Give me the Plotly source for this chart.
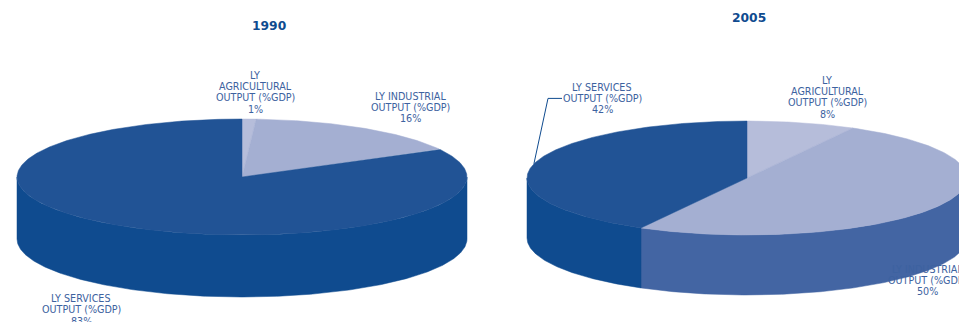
import numpy as np
import plotly.graph_objects as go

# Shares of GDP by sector
sectors = ["Agricultural", "Industrial", "Services"]
share_1990 = [1, 16, 83]
share_2005 = [8, 50, 42]
years = ["1990", "2005"]

label_lines = {
    "Agricultural": ["LY", "AGRICULTURAL", "OUTPUT (%GDP)"],
    "Industrial": ["LY INDUSTRIAL", "OUTPUT (%GDP)"],
    "Services": ["LY SERVICES", "OUTPUT (%GDP)"],
}

TOP_COLORS = {"Agricultural": "#b6bdda", "Industrial": "#a4afd2", "Services": "#215395"}
SIDE_COLORS = {"Agricultural": "#8f9cc6", "Industrial": "#4365a3", "Services": "#0f4b8f"}
TEXT_COLOR = "#3d62a0"
TITLE_COLOR = "#0f4b8f"

# Pie geometry in page pixels
PIES = {
    "1990": dict(cx=242, cy=177, rx=225, ry=58, depth=62, title=(269, 26),
                 labels={"Agricultural": (255, 75), "Industrial": (410, 96), "Services": (81, 298.5)}),
    "2005": dict(cx=747, cy=178, rx=220, ry=57, depth=60, title=(749, 18),
                 labels={"Agricultural": (827, 80), "Industrial": (927, 269), "Services": (602, 87)}),
}
LINE_STEP = 11.4


def rim(p, a0, a1, dy=0.0):
    """Points along the rim from a0 to a1 degrees, clockwise from 12 o'clock."""
    t = np.radians(np.linspace(a0, a1, max(int(abs(a1 - a0) * 2), 2)))
    return p["cx"] + p["rx"] * np.sin(t), p["cy"] - p["ry"] * np.cos(t) + dy


def polygon(fig, x, y, color):
    fig.add_trace(go.Scatter(x=x, y=y, mode="lines", fill="toself", fillcolor=color,
                             line=dict(color=color, width=0.5), hoverinfo="skip", showlegend=False))


fig = go.Figure()
annotations = []

for year, shares in zip(years, [share_1990, share_2005]):
    p = PIES[year]
    edges = np.concatenate([[0], np.cumsum(shares)]) * 3.6

    # Outer wall: only the front half of each slice is visible
    for name, a0, a1 in zip(sectors, edges[:-1], edges[1:]):
        lo, hi = max(a0, 90), min(a1, 270)
        if hi > lo:
            xt, yt = rim(p, lo, hi)
            xb, yb = rim(p, lo, hi, p["depth"])
            polygon(fig, np.r_[xt, xb[::-1], xt[0]], np.r_[yt, yb[::-1], yt[0]], SIDE_COLORS[name])

    # Top face
    for name, a0, a1 in zip(sectors, edges[:-1], edges[1:]):
        xt, yt = rim(p, a0, a1)
        polygon(fig, np.r_[p["cx"], xt, p["cx"]], np.r_[p["cy"], yt, p["cy"]], TOP_COLORS[name])

    # Sector labels, one annotation per line for exact leading
    for name, share in zip(sectors, shares):
        lx, ly = p["labels"][name]
        for i, line in enumerate(label_lines[name] + [f"{share}%"]):
            annotations.append(dict(x=lx, y=ly + i * LINE_STEP, text=line, showarrow=False,
                                    xanchor="center", yanchor="middle",
                                    font=dict(family="DejaVu Sans", size=9.6, color=TEXT_COLOR)))

    annotations.append(dict(x=p["title"][0], y=p["title"][1], text=f"<b>{year}</b>", showarrow=False,
                            xanchor="center", yanchor="middle",
                            font=dict(family="DejaVu Sans", size=12.3, color=TITLE_COLOR)))

# Leader line from the 2005 services slice up to its label
p = PIES["2005"]
mid = 360 - share_2005[2] * 3.6 / 2
lx, ly = p["labels"]["Services"]
ly += LINE_STEP
ax, ay = rim(p, mid, mid + 0.5)
fig.add_trace(go.Scatter(x=[ax[0], lx - 54, lx - 40], y=[ay[0], ly, ly], mode="lines",
                         line=dict(color=TITLE_COLOR, width=1), hoverinfo="skip", showlegend=False))

hidden = dict(visible=False, showgrid=False, zeroline=False)
fig.update_layout(
    width=959, height=322, margin=dict(l=0, r=0, t=0, b=0),
    paper_bgcolor="white", plot_bgcolor="white", showlegend=False,
    xaxis=dict(range=[0, 959], **hidden),
    yaxis=dict(range=[322, 0], **hidden),
    annotations=annotations,
)
fig.write_html("out.html", config={"displayModeBar": False})
